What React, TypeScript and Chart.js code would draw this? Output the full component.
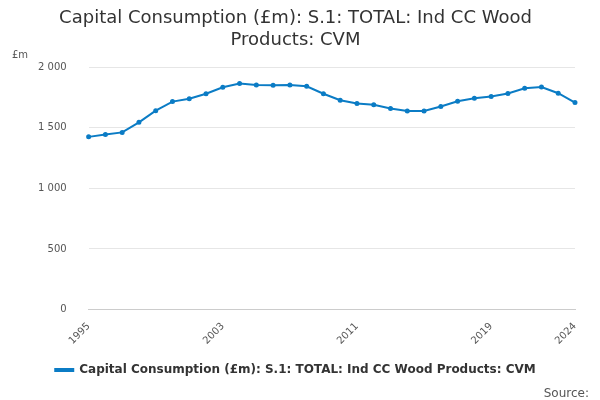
import React, { useEffect, useRef } from "react";
import { Chart, registerables } from "chart.js";
Chart.register(...registerables);

const years = Array.from({ length: 30 }, (_, i) => String(1995 + i));
const values = [1425, 1444, 1462, 1545, 1641, 1716, 1740, 1781, 1834, 1866, 1853, 1850, 1853, 1842, 1781, 1727, 1700, 1690, 1660, 1639, 1639, 1676, 1719, 1743, 1759, 1783, 1826, 1837, 1785, 1708];
const shownLabels = ["1995", "2003", "2011", "2019", "2024"];
const seriesName = "Capital Consumption (£m): S.1: TOTAL: Ind CC Wood Products: CVM";

export default function App() {
  const ref = useRef<HTMLCanvasElement>(null);
  useEffect(() => {
    document.body.style.margin = "0";
    const font = "'DejaVu Sans', sans-serif";
    const c = new Chart(ref.current!, {
      type: "line",
      data: {
        labels: years,
        datasets: [{
          label: seriesName, data: values, borderColor: "#0b7cc5", backgroundColor: "#0b7cc5",
          borderWidth: 2, pointRadius: 1.5, pointHoverRadius: 1.5, tension: 0,
        }],
      },
      options: {
        animation: false, responsive: false,
        layout: { padding: { left: 16, right: 25, bottom: 14 } },
        plugins: {
          title: { display: true, text: ["Capital Consumption (£m): S.1: TOTAL: Ind CC Wood", "Products: CVM"], color: "#333", font: { family: font, size: 18, weight: "normal" }, padding: { top: 8, bottom: 16 } },
          legend: { position: "bottom", labels: { color: "#333", font: { family: font, size: 12, weight: "bold" }, boxWidth: 18, boxHeight: 2, padding: 14 } },
          tooltip: { enabled: false },
        },
        scales: {
          x: {
            grid: { display: false, drawTicks: true }, border: { color: "#ccc" },
            ticks: {
              autoSkip: false, maxRotation: 45, minRotation: 45, color: "#555", font: { family: font, size: 10 },
              callback: (v: any, i: number) => (shownLabels.includes(years[i]) ? years[i] : ""),
            },
          },
          y: {
            min: 0, max: 2000, border: { display: false }, grid: { color: "#e6e6e6", drawTicks: false },
            ticks: { stepSize: 500, padding: 22, color: "#555", font: { family: font, size: 10 }, callback: (v: any) => Number(v).toLocaleString("en-US").replace(",", " ") },
          },
        },
      },
      plugins: [{
        id: "extras",
        afterDraw(ch: any) {
          const ctx = ch.ctx;
          ctx.save();
          ctx.fillStyle = "#555";
          ctx.font = `10px ${font}`;
          ctx.fillText("£m", 12, 55);
          ctx.font = `12px ${font}`;
          ctx.textAlign = "right";
          ctx.fillText("Source:", 589, 394);
          ctx.restore();
        },
      }],
    } as any);
    return () => c.destroy();
  }, []);
  return <canvas ref={ref} width={600} height={400} />;
}
